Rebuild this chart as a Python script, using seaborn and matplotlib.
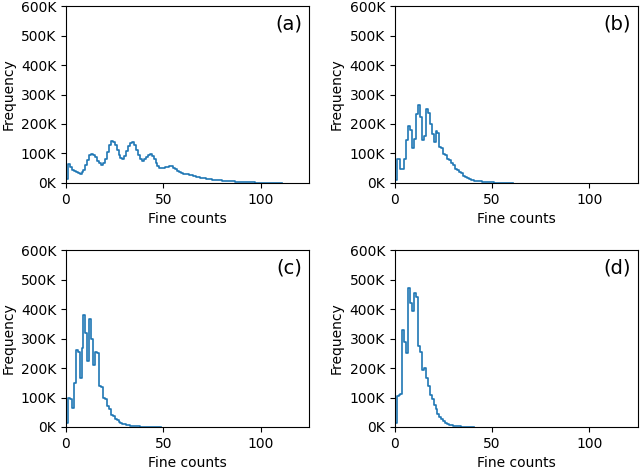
import numpy as np
import pandas as pd
import matplotlib
matplotlib.use("Agg")
import matplotlib.pyplot as plt
from matplotlib.ticker import FuncFormatter
import seaborn as sns

# frequency per integer bin of fine counts, in thousands
freq_a = [15, 65, 55, 45, 40, 36, 33, 32, 36, 45,
          60, 78, 95, 99, 96, 88, 76, 66, 62, 68,
          82, 105, 128, 142, 140, 130, 112, 95, 84, 82,
          90, 108, 125, 135, 138, 128, 112, 95, 80, 76,
          80, 88, 96, 98, 93, 82, 68, 57, 52, 50,
          51, 53, 55, 57, 56, 52, 46, 40, 36, 33,
          31, 30, 29, 28, 26, 24, 22, 20, 19, 18,
          17, 16, 15, 13, 12, 11, 10, 9.5, 9, 8.5,
          8, 7.5, 7, 6.5, 6, 5.5, 5, 4.6, 4.2, 3.8,
          3.4, 3.0, 2.7, 2.4, 2.1, 1.8, 1.6, 1.4, 1.2, 1.0,
          0.9, 0.8, 0.7, 0.6, 0.5, 0.4, 0.3, 0.25, 0.2, 0.15, 0.1]
freq_b = [10, 82, 80, 48, 47, 82, 145, 192, 180, 120,
          150, 235, 264, 225, 145, 160, 250, 238, 200, 165,
          138, 175, 168, 122, 118, 98, 96, 80, 78, 66,
          62, 48, 45, 36, 34, 22, 20, 16, 13, 11,
          9, 8, 7, 6, 5, 4, 3.5, 3, 2.5, 2,
          1.6, 1.2, 1, 0.8, 0.6, 0.4, 0.3, 0.2, 0.1, 0.1, 0.05]
freq_c = [15, 97, 96, 63, 148, 262, 255, 165, 268, 380,
          320, 225, 365, 300, 210, 255, 250, 140, 135, 100,
          95, 72, 60, 42, 38, 28, 22, 17, 14, 11,
          9, 7, 6, 5, 4, 3, 2.5, 2, 1.5, 1.2,
          1, 0.8, 0.6, 0.5, 0.4, 0.3, 0.2, 0.1, 0.1]
freq_d = [15, 105, 110, 112, 330, 290, 250, 470, 420, 395,
          455, 440, 275, 255, 195, 200, 165, 140, 108, 95,
          75, 60, 45, 35, 28, 20, 15, 11, 8, 6,
          4.5, 3.5, 2.5, 2, 1.5, 1, 0.8, 0.5, 0.3, 0.2, 0.1]

panels = ["(a)", "(b)", "(c)", "(d)"]
series = [freq_a, freq_b, freq_c, freq_d]

fig, axes = plt.subplots(2, 2, figsize=(6.4, 4.69), dpi=100)
fig.subplots_adjust(left=0.103, right=0.997, top=0.987, bottom=0.0896,
                    wspace=0.35, hspace=0.38)

for ax, label, vals in zip(axes.flat, panels, series):
    df = pd.DataFrame({"counts": np.arange(len(vals)) + 0.5,
                       "freq": np.array(vals) * 1000})
    sns.histplot(data=df, x="counts", weights="freq", binwidth=1,
                 binrange=(0, len(vals)), element="step", fill=False,
                 color="#1f77b4", linewidth=1.2, ax=ax)
    ax.set_xlim(0, 125)
    ax.set_ylim(0, 600000)
    ax.set_yticks(np.arange(0, 600001, 100000))
    ax.yaxis.set_major_formatter(FuncFormatter(lambda v, p: f"{v/1000:.0f}K"))
    ax.set_xticks([0, 50, 100])
    ax.set_xlabel("Fine counts")
    ax.set_ylabel("Frequency")
    ax.text(0.97, 0.95, label, transform=ax.transAxes, ha="right", va="top",
            fontsize=14)

fig.savefig("out.png", dpi=100)
